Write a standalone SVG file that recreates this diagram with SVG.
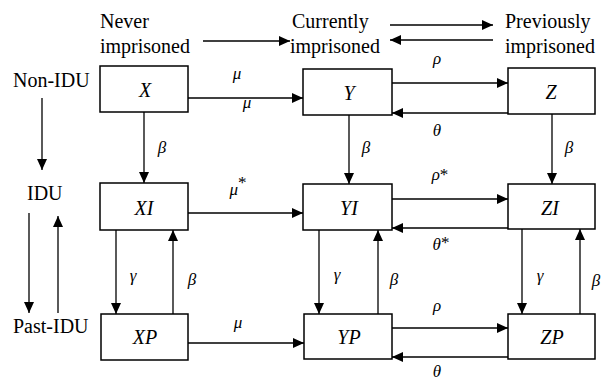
<svg xmlns="http://www.w3.org/2000/svg" width="604" height="380" viewBox="0 0 604 380">
<defs>
<marker id="ah" viewBox="0 0 11 10" refX="11" refY="5" markerWidth="11" markerHeight="10" markerUnits="userSpaceOnUse" orient="auto">
<path d="M0,0 L11,5 L0,10 Z" fill="#000"/>
</marker>
<style>
.box{fill:#fff;stroke:#000;stroke-width:1.5}
.c{fill:none;stroke:#000;stroke-width:1.3;marker-end:url(#ah)}
text{font-family:'Liberation Serif','Tinos','Times New Roman','DejaVu Serif',serif;fill:#000}
.t{font-size:20px}
.n{font-size:20px;font-style:italic;text-anchor:middle}
.g{font-size:17px;font-style:italic;text-anchor:middle}
.s{font-size:17px;font-style:normal}
</style>
</defs>
<rect width="604" height="380" fill="#fff"/>
<g id="headers">
<text class="t" x="100" y="28" font-family="Liberation Serif">Never</text>
<text class="t" x="100" y="53">imprisoned</text>
<text class="t" x="292" y="28">Currently</text>
<text class="t" x="290" y="53">imprisoned</text>
<text class="t" x="505" y="28">Previously</text>
<text class="t" x="505" y="53">imprisoned</text>
<text class="t" x="13" y="87">Non-IDU</text>
<text class="t" x="27" y="200">IDU</text>
<text class="t" x="13" y="333">Past-IDU</text>
</g>
<g id="node-X"><rect class="box" x="100" y="66" width="88" height="46"/><text class="n" x="145" y="97">X</text></g>
<g id="node-Y"><rect class="box" x="303" y="69" width="89" height="46"/><text class="n" x="349" y="100">Y</text></g>
<g id="node-Z"><rect class="box" x="508" y="68" width="87" height="46"/><text class="n" x="551" y="99">Z</text></g>
<g id="node-XI"><rect class="box" x="100" y="183" width="88" height="47"/><text class="n" x="144" y="215">XI</text></g>
<g id="node-YI"><rect class="box" x="303" y="184" width="89" height="46"/><text class="n" x="349" y="215">YI</text></g>
<g id="node-ZI"><rect class="box" x="508" y="184" width="87" height="45"/><text class="n" x="550" y="215">ZI</text></g>
<g id="node-XP"><rect class="box" x="101" y="314" width="87" height="46"/><text class="n" x="145" y="344">XP</text></g>
<g id="node-YP"><rect class="box" x="304" y="314" width="88" height="45"/><text class="n" x="349" y="344">YP</text></g>
<g id="node-ZP"><rect class="box" x="508" y="314" width="87" height="45"/><text class="n" x="552" y="344">ZP</text></g>
<g id="connectors">
<line class="c" x1="203" y1="41" x2="290" y2="41"/>
<line class="c" x1="390" y1="25" x2="493" y2="25"/>
<line class="c" x1="493" y1="40" x2="390" y2="40"/>
<line class="c" x1="42" y1="98" x2="42" y2="170"/>
<line class="c" x1="29" y1="213" x2="29" y2="313"/>
<line class="c" x1="58" y1="313" x2="58" y2="216"/>
<line class="c" x1="188" y1="98" x2="303" y2="98"/>
<line class="c" x1="392" y1="83" x2="508" y2="83"/>
<line class="c" x1="508" y1="113" x2="392" y2="113"/>
<line class="c" x1="144" y1="112" x2="144" y2="183"/>
<line class="c" x1="349" y1="115" x2="349" y2="184"/>
<line class="c" x1="552" y1="114" x2="552" y2="184"/>
<line class="c" x1="188" y1="213" x2="303" y2="213"/>
<line class="c" x1="392" y1="199" x2="508" y2="199"/>
<line class="c" x1="508" y1="228" x2="392" y2="228"/>
<line class="c" x1="116" y1="230" x2="116" y2="314"/>
<line class="c" x1="173" y1="314" x2="173" y2="230"/>
<line class="c" x1="319" y1="230" x2="319" y2="314"/>
<line class="c" x1="378" y1="314" x2="378" y2="230"/>
<line class="c" x1="522" y1="229" x2="522" y2="314"/>
<line class="c" x1="580" y1="314" x2="580" y2="229"/>
<line class="c" x1="188" y1="343" x2="304" y2="343"/>
<line class="c" x1="392" y1="328" x2="508" y2="328"/>
<line class="c" x1="508" y1="357" x2="392" y2="357"/>
</g>
<g id="labels">
<text class="g" x="237" y="79">μ</text>
<text class="g" x="247" y="108">μ</text>
<text class="g" x="437" y="64">ρ</text>
<text class="g" x="437" y="136">θ</text>
<text class="g" x="162" y="153">β</text>
<text class="g" x="366" y="153">β</text>
<text class="g" x="569" y="153">β</text>
<text class="g" x="238" y="195">μ<tspan class="s" dy="-7">*</tspan></text>
<text class="g" x="440" y="180">ρ<tspan class="s">*</tspan></text>
<text class="g" x="441" y="250">θ<tspan class="s" dy="-2">*</tspan></text>
<text class="g" x="133" y="281">γ</text>
<text class="g" x="192" y="285">β</text>
<text class="g" x="337" y="280">γ</text>
<text class="g" x="394" y="285">β</text>
<text class="g" x="540" y="281">γ</text>
<text class="g" x="596" y="286">β</text>
<text class="g" x="238" y="328">μ</text>
<text class="g" x="437" y="311">ρ</text>
<text class="g" x="437" y="377">θ</text>
</g>
</svg>
